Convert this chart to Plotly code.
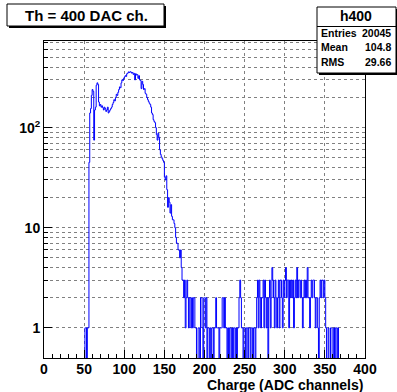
import numpy as np
import plotly.graph_objects as go

# ---------------- data ----------------
bin_edges = list(range(0, 401))          # 400 bins of width 1 ADC channel
counts_0_49 = [0] * 50
counts_50_99 = [0, 1, 1, 0, 1, 1, 45, 140, 155, 210,
                240, 230, 75, 150, 160, 265, 280, 270, 180, 165,
                170, 160, 165, 158, 150, 160, 155, 145, 150, 160,
                140, 145, 150, 155, 160, 170, 178, 190, 185, 200,
                215, 210, 225, 240, 255, 250, 280, 300, 295, 310]
counts_100_149 = [320, 330, 325, 345, 350, 360, 355, 362, 358, 350,
                  355, 340, 348, 300, 345, 335, 338, 310, 330, 300,
                  295, 245, 290, 270, 240, 245, 220, 215, 200, 190,
                  182, 175, 170, 160, 140, 135, 120, 115, 112, 100,
                  85, 75, 88, 80, 60, 54, 51, 49, 47, 45]
counts_150_209 = [32, 30, 33, 24, 16, 20, 18, 14, 17, 13,
                  12, 12, 11, 10, 8, 7, 7, 6, 6, 5,
                  6, 4, 3, 3, 2, 3, 1, 2, 3, 2,
                  1, 2, 2, 1, 2, 1, 2, 2, 1, 1,
                  0, 0, 1, 1, 0, 2, 2, 1, 0, 2,
                  2, 1, 2, 0, 1, 1, 0, 1, 0, 1]
counts_210_269 = [1, 0, 1, 1, 2, 1, 1, 1, 0, 1,
                  1, 1, 2, 2, 1, 2, 1, 1, 0, 1,
                  0, 1, 1, 0, 1, 0, 1, 1, 0, 1,
                  0, 1, 1, 2, 3, 2, 1, 1, 0, 1,
                  1, 0, 1, 1, 0, 1, 1, 0, 1, 1,
                  0, 1, 1, 0, 1, 2, 3, 1, 3, 2]
counts_270_329 = [1, 2, 2, 3, 1, 3, 2, 1, 2, 0,
                  2, 3, 1, 2, 4, 3, 2, 1, 3, 2,
                  1, 2, 3, 1, 3, 3, 2, 1, 3, 2,
                  3, 4, 2, 3, 3, 1, 3, 2, 3, 2,
                  3, 1, 2, 3, 2, 4, 2, 3, 3, 2,
                  3, 2, 1, 2, 3, 2, 3, 2, 4, 2]
counts_330_399 = [2, 1, 2, 3, 2, 3, 3, 2, 1, 2,
                  2, 1, 0, 2, 3, 2, 3, 3, 2, 3,
                  2, 1, 0, 0, 1, 0, 0, 1, 1, 0,
                  0, 1, 0, 1, 1, 0, 1, 0] + [0] * 32

counts = (counts_0_49 + counts_50_99 + counts_100_149 + counts_150_209
          + counts_210_269 + counts_270_329 + counts_330_399)

x_ticks = [0, 50, 100, 150, 200, 250, 300, 350, 400]
y_major = [1, 10, 100]
y_major_text = ["1", "10", "10<sup>2</sup>"]
y_minor = [2, 3, 4, 5, 6, 7, 8, 9, 20, 30, 40, 50, 60, 70, 80, 90,
           200, 300, 400, 500, 600, 700]

hist_name = "h400"
title_text = "Th = 400 DAC ch."
x_title = "Charge (ADC channels)"
stat_labels = ["Entries", "Mean", "RMS"]
stat_values = ["20045", "104.8", "29.66"]

# ---------------- layout geometry ----------------
W, H = 397, 392
ML, MR, MT, MB = 44, 32, 41, 34
PW, PH = W - ML - MR, H - MT - MB
FONT = "Liberation Sans, Arial, Helvetica, sans-serif"
GRID = "#808080"


def px(x):
    return (x - ML) / PW


def py(y):
    return (H - MB - y) / PH


# zero bins are drawn below the log axis floor (as ROOT does)
y_plot = [c if c > 0 else 0.05 for c in counts]
y_plot = y_plot + [y_plot[-1]]

fig = go.Figure()
fig.add_trace(go.Scatter(
    x=bin_edges, y=y_plot, mode="lines", line_shape="hv",
    line=dict(color="#0000ff", width=1), hoverinfo="skip", showlegend=False))

fig.update_layout(
    width=W, height=H,
    margin=dict(l=ML, r=MR, t=MT, b=MB),
    paper_bgcolor="white", plot_bgcolor="white",
    font=dict(family=FONT, size=13, color="black"),
    showlegend=False,
)

fig.update_xaxes(
    range=[0, 400], tickmode="array", tickvals=x_ticks,
    ticks="inside", ticklen=8, tickwidth=1, tickcolor="black",
    tickfont=dict(family=FONT, size=14, color="black", weight="bold"),
    ticklabelstandoff=-2,
    showline=True, linecolor="black", linewidth=1, mirror=True,
    showgrid=True, gridcolor=GRID, griddash="dot", gridwidth=1,
    zeroline=False,
    minor=dict(dtick=10, tick0=0, ticks="inside", ticklen=4,
               tickcolor="black", showgrid=False),
)

fig.update_yaxes(
    type="log", range=[np.log10(0.5), 2.865],
    tickmode="array", tickvals=y_major, ticktext=y_major_text,
    ticks="inside", ticklen=8, tickwidth=1, tickcolor="black",
    tickfont=dict(family=FONT, size=14, color="black", weight="bold"),
    showline=True, linecolor="black", linewidth=1, mirror=True,
    showgrid=True, gridcolor=GRID, griddash="dot", gridwidth=1,
    zeroline=False,
    minor=dict(tickmode="array", tickvals=y_minor, ticks="inside", ticklen=4,
               tickcolor="black", showgrid=True, gridcolor=GRID,
               griddash="dot", gridwidth=1),
)

shapes = []
annotations = []


def pave(x0, y0, x1, y1, shadow=2):
    shapes.append(dict(type="rect", xref="paper", yref="paper",
                       x0=px(x0 + shadow), x1=px(x1 + shadow),
                       y0=py(y1 + shadow), y1=py(y0 + shadow),
                       fillcolor="black", line=dict(width=0), layer="above"))
    shapes.append(dict(type="rect", xref="paper", yref="paper",
                       x0=px(x0), x1=px(x1), y0=py(y1), y1=py(y0),
                       fillcolor="white", line=dict(color="black", width=1),
                       layer="above"))


# title pave
pave(7, 4, 164, 26)
annotations.append(dict(text="<b>%s</b>" % title_text, xref="paper", yref="paper",
                        x=px(86), y=py(15.5), xanchor="center", yanchor="middle",
                        showarrow=False, font=dict(family=FONT, size=15, color="black")))

# stats pave
pave(317, 7, 396, 73)
shapes.append(dict(type="line", xref="paper", yref="paper",
                   x0=px(317), x1=px(396), y0=py(26.5), y1=py(26.5),
                   line=dict(color="black", width=1), layer="above"))
annotations.append(dict(text="<b>%s</b>" % hist_name, xref="paper", yref="paper",
                        x=px(356), y=py(16), xanchor="center", yanchor="middle",
                        showarrow=False, font=dict(family=FONT, size=14, color="black")))
for i, (lab, val) in enumerate(zip(stat_labels, stat_values)):
    yy = 33 + i * 14.5
    annotations.append(dict(text="<b>%s</b>" % lab, xref="paper", yref="paper",
                            x=px(319), y=py(yy), xanchor="left", yanchor="middle",
                            showarrow=False, font=dict(family=FONT, size=10.5, color="black")))
    annotations.append(dict(text="<b>%s</b>" % val, xref="paper", yref="paper",
                            x=px(393), y=py(yy), xanchor="right", yanchor="middle",
                            showarrow=False, font=dict(family=FONT, size=10.5, color="black")))

# x-axis title, right-aligned at the axis end
annotations.append(dict(text="<b>%s</b>" % x_title, xref="x", yref="paper",
                        x=400, y=py(384.5), xanchor="right", yanchor="middle",
                        showarrow=False, font=dict(family=FONT, size=14, color="black")))

fig.update_layout(shapes=shapes, annotations=annotations)
fig.write_html("out.html")
